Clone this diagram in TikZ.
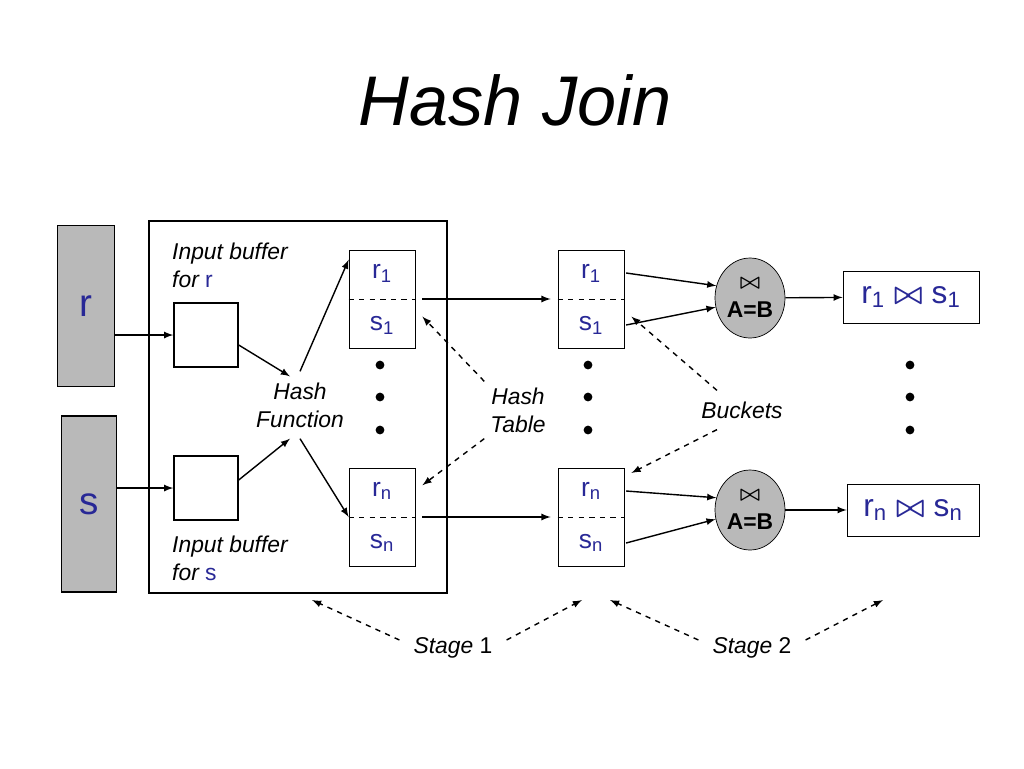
\documentclass[tikz,border=0pt]{standalone}
\usepackage{amsmath}
\usepackage{fontspec}
\setmainfont{Liberation Sans}
\usetikzlibrary{arrows,shapes}
\definecolor{ink}{RGB}{40,40,150}
\tikzset{
 bx/.style={draw,thick,minimum width=1.28cm,minimum height=1.28cm,inner sep=0pt},
 bucket/.style={draw,minimum width=1.32cm,minimum height=1.96cm,inner sep=0pt},
 half/.style={inner sep=0pt,text=ink,font=\fontsize{15}{17}\selectfont},
 lab/.style={font=\itshape\fontsize{13}{16}\selectfont,align=center},
 dsh/.style={dashed,thick,-latex},
 dot/.style={circle,fill,inner sep=0pt,minimum size=5pt}
}
\begin{document}
\begin{tikzpicture}[x=0.02cm,y=-0.02cm]
\useasboundingbox (0,0) rectangle (1024,768);
\node [font=\itshape\fontsize{40}{44}\selectfont] (title) at (515,100) {Hash Join};
% relations
 \node [draw,thick,fill=gray!55,minimum width=1.14cm,minimum height=3.22cm,text=ink,font=\fontsize{22}{24}\selectfont] (r) at (86,306) {r};
 \node [draw,thick,fill=gray!55,minimum width=1.1cm,minimum height=3.52cm,text=ink,font=\fontsize{22}{24}\selectfont] (s) at (89,504) {s};
 \draw [thick] (149,221) rectangle (447,593);
% input buffers
 \node [bx] (b1) at (206,335) {};
 \node [bx] (b2) at (206,488) {};
 \node [lab,align=left,anchor=west] (ib1) at (166,265) {Input buffer\\for \textcolor{ink}{\upshape r}};
 \node [lab,align=left,anchor=west] (ib2) at (166,558) {Input buffer\\for \textcolor{ink}{\upshape s}};
 \node [lab] (hf) at (300,405) {Hash\\Function};
% buckets
 \foreach \n/\x/\y/\i in {a/382/273/1,b/382/491/n,c/591/273/1,d/591/491/n}{
  \node [bucket] (\n) at (\x,\y+26) {};
  \node [half] (\n r) at (\x,\y) {r\textsubscript{\i}};
  \node [half] (\n s) at (\x,\y+52) {s\textsubscript{\i}};
  \draw [dashed] (\n.west) -- (\n.east);
 }
 \foreach \x in {380,588,910}
  \foreach \y in {365,397,430}
   \node [dot] at (\x,\y) {};
% joins
 \foreach \n/\y in {j1/298,j2/510}
  \node [ellipse,draw,fill=gray!55,minimum width=1.4cm,minimum height=1.6cm,align=center,inner sep=0pt,font=\bfseries\fontsize{13}{16}\selectfont] (\n) at (750,\y) {$\boldsymbol{\bowtie}$\\A=B};
 \node [draw,minimum width=2.72cm,minimum height=1.04cm,text=ink,font=\fontsize{18}{20}\selectfont] (o1) at (911,297) {r\textsubscript{1} $\boldsymbol{\bowtie}$ s\textsubscript{1}};
 \node [draw,minimum width=2.64cm,minimum height=1.04cm,text=ink,font=\fontsize{18}{20}\selectfont] (o2) at (913,510) {r\textsubscript{n} $\boldsymbol{\bowtie}$ s\textsubscript{n}};
% arrows
 \draw [-latex,thick] (r.east |- b1) -- (b1);
 \draw [-latex,thick] (s.east |- b2) -- (b2);
 \draw [-latex,thick] ([yshift=-0.2cm]b1.east) -- ([xshift=-0.2cm]hf.north);
 \draw [-latex,thick] ([yshift=0.16cm]b2.east) -- ([shift={(-0.2cm,-0.1cm)}]hf.south);
 \draw [-latex,thick] ([yshift=0.1cm]hf.north) -- ([yshift=-0.2cm]a.north west);
 \draw [-latex,thick] ([yshift=-0.1cm]hf.south) -- (b.west);
 \draw [-latex,thick] ([xshift=4pt]a.east) -- ([xshift=-4pt]c.west);
 \draw [-latex,thick] ([xshift=4pt]b.east) -- ([xshift=-4pt]d.west);
 \draw [-latex,thick] ([xshift=1pt]cr.east -| c.east) -- (j1.160);
 \draw [-latex,thick] ([xshift=1pt]cs.east -| c.east) -- (j1.195);
 \draw [-latex,thick] ([xshift=1pt]dr.east -| d.east) -- (j2.160);
 \draw [-latex,thick] ([xshift=1pt]ds.east -| d.east) -- (j2.195);
 \draw [-latex,thick] (j1) -- (o1);
 \draw [-latex,thick] (j2) -- (o2);
% labels
 \node [lab] (ht) at (518,410) {Hash\\Table};
 \draw [dsh] (ht.north west) -- ([shift={(4pt,-10pt)}]a.east);
 \draw [dsh] (ht.south west) -- ([shift={(4pt,-10pt)}]b.north east);
 \node [lab] (bk) at (742,410) {Buckets};
 \draw [dsh] (bk.north) ++(-25,-5) -- ([shift={(4pt,-10pt)}]c.east);
 \draw [dsh] (bk.south) ++(-25,5) -- ([shift={(4pt,-3pt)}]d.north east);
 \node [lab] (st1) at (453,648) {Stage \upshape 1};
 \node [lab] (st2) at (752,648) {Stage \upshape 2};
 \coordinate (p1) at (312,600); \coordinate (p2) at (582,600);
 \coordinate (p3) at (610,600); \coordinate (p4) at (883,600);
 \draw [dsh] (st1.west) ++(-8,-8) -- (p1);
 \draw [dsh] (st1.east) ++(8,-8) -- (p2);
 \draw [dsh] (st2.west) ++(-8,-8) -- (p3);
 \draw [dsh] (st2.east) ++(8,-8) -- (p4);
\end{tikzpicture}
\end{document}
